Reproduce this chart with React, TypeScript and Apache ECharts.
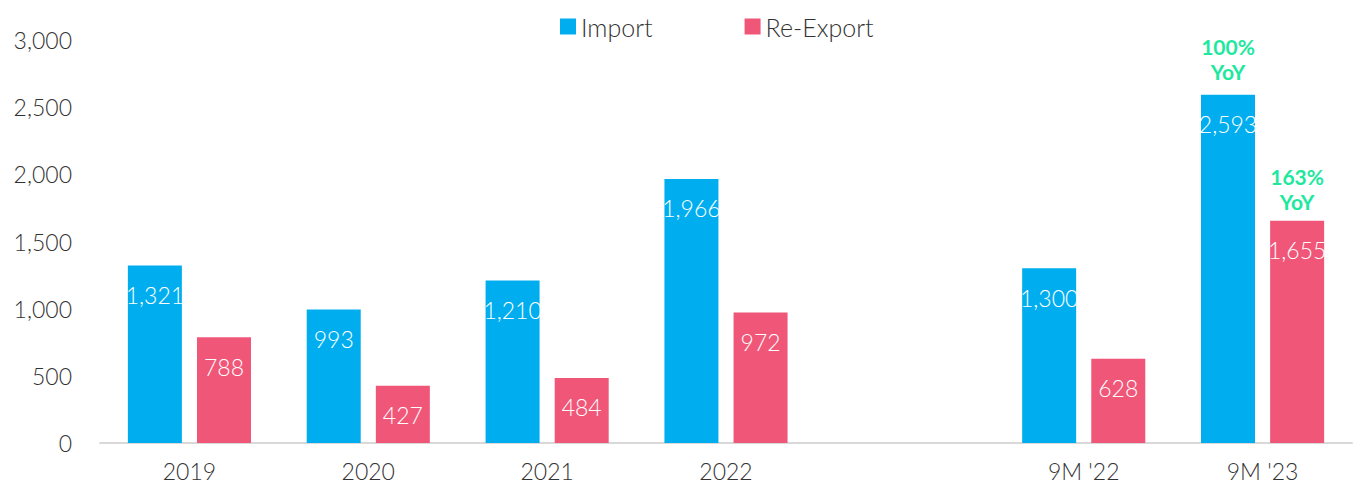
import React, { useEffect, useRef } from "react";
import * as echarts from "echarts";

const categories = ["2019", "2020", "2021", "2022", "", "9M '22", "9M '23"];
const importValues = [1321, 993, 1210, 1966, null, 1300, 2593];
const reExportValues = [788, 427, 484, 972, null, 628, 1655];
const yoyCategory = "9M '23";
const importYoY = "100%";
const reExportYoY = "163%";

const FONT = "Lato, 'Noto Sans', sans-serif";
const TEXT = "#333333";

export default function App() {
  const ref = useRef<HTMLDivElement>(null);
  useEffect(() => {
    if (!ref.current) return;
    const chart = echarts.init(ref.current, undefined, { renderer: "svg" });
    const yoyLabel = {
      show: true,
      position: "top",
      color: "#1EE89E",
      fontWeight: "bold",
      fontSize: 21,
      lineHeight: 25,
      fontFamily: FONT,
    };
    const valueLabel = {
      show: true,
      position: "insideTop",
      distance: 18,
      color: "#fff",
      fontSize: 23,
      fontWeight: 300,
      fontFamily: FONT,
      formatter: (p: any) => Number(p.value).toLocaleString("en-US"),
    };
    chart.setOption({
      animation: false,
      textStyle: { fontFamily: FONT },
      legend: {
        top: 9,
        left: 555,
        itemWidth: 16,
        itemHeight: 16,
        itemGap: 92,
        icon: "rect",
        textStyle: { fontSize: 25, fontWeight: 300, color: TEXT, fontFamily: FONT },
        data: ["Import", "Re-Export"],
      },
      grid: { left: 100, right: 3, top: 40, bottom: 53, containLabel: false },
      xAxis: {
        type: "category",
        data: categories,
        axisLine: { show: true, lineStyle: { color: "#d9d9d9", width: 2 } },
        axisTick: { show: false },
        axisLabel: { color: TEXT, fontSize: 23, fontWeight: 300, margin: 16, fontFamily: FONT },
      },
      yAxis: {
        type: "value",
        min: 0,
        max: 3000,
        interval: 500,
        splitLine: { show: false },
        axisLine: { show: false },
        axisTick: { show: false },
        axisLabel: {
          color: TEXT,
          fontSize: 23,
          fontWeight: 300,
          margin: 28,
          fontFamily: FONT,
          formatter: (v: number) => v.toLocaleString("en-US"),
        },
      },
      series: [
        {
          name: "Import",
          type: "bar",
          data: importValues,
          barWidth: 54,
          barGap: "28%",
          itemStyle: { color: "#00AEEF" },
          label: valueLabel,
          markPoint: {
            symbol: "circle",
            symbolSize: 0,
            label: { ...yoyLabel, distance: 11, formatter: importYoY + "\nYoY" },
            data: [{ coord: [yoyCategory, importValues[6]] }],
          },
        },
        {
          name: "Re-Export",
          type: "bar",
          data: reExportValues,
          barWidth: 54,
          itemStyle: { color: "#F05678" },
          label: valueLabel,
          markPoint: {
            symbol: "circle",
            symbolSize: 0,
            label: { ...yoyLabel, distance: 7, formatter: reExportYoY + "\nYoY" },
            data: [{ coord: [yoyCategory, reExportValues[6]] }],
          },
        },
      ],
    });
    return () => chart.dispose();
  }, []);
  return (
    <div
      ref={ref}
      style={{ position: "fixed", left: 0, top: 0, width: 1355, height: 496, background: "#fff" }}
    />
  );
}
